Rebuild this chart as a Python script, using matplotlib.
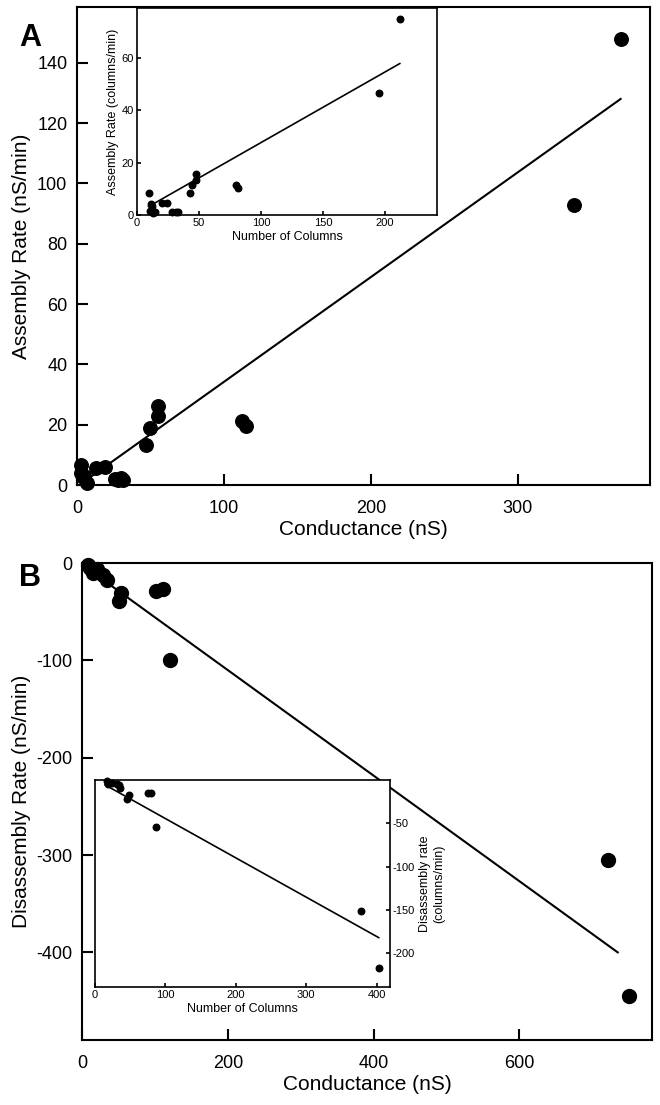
import matplotlib
matplotlib.use("Agg")
import matplotlib.pyplot as plt

plt.rcParams['font.family'] = ['Liberation Sans', 'DejaVu Sans']
plt.rcParams['axes.unicode_minus'] = False

# panel A main: conductance (nS) vs assembly rate (nS/min)
asm_cond = [3, 3, 4, 5, 7, 13, 19, 26, 28, 30, 31, 47, 50, 55, 55, 112, 115, 338, 370]
asm_rate = [6.6, 4.0, 2.5, 3.0, 0.5, 5.5, 6.0, 2.0, 1.8, 2.2, 1.8, 13.3, 19.0, 23.0, 26.3, 21.3, 19.5, 93, 148]
asm_fit_x = [3, 370]
asm_fit_y = [0.5, 128]

# panel A inset: number of columns vs assembly rate (columns/min)
asm_cols = [9.3, 10.1, 11.5, 12, 13.3, 14.7, 20, 24, 28, 31.5, 33.3, 42.7, 44, 47.5, 47.5, 80, 81.3, 195.5, 212]
asm_cols_rate = [8.3, 1.7, 4.2, 3.5, 0.6, 1.3, 4.4, 4.4, 1.3, 1.3, 1.3, 8.3, 11.4, 13.3, 15.6, 11.4, 10.2, 46.4, 74.8]
asm_cols_fit_x = [9.3, 212]
asm_cols_fit_y = [3.2, 57.8]

# panel B main: conductance (nS) vs disassembly rate (nS/min)
dis_cond = [8, 11, 15, 20, 29, 34, 51, 54, 102, 111, 121, 722, 750]
dis_rate = [-2, -5, -10, -6, -12, -17, -39, -31, -29, -27, -100, -305, -445]
dis_fit_x = [10, 735]
dis_fit_y = [-7, -400]

# panel B inset: number of columns vs disassembly rate (columns/min)
dis_cols = [16.6, 19, 23.7, 30.8, 34.6, 35.5, 48.8, 46, 75.8, 79, 86.7, 378, 403]
dis_cols_rate = [-1.7, -4.4, -3.7, -4.4, -5.6, -9.5, -17.2, -22.2, -14.5, -14.5, -53.9, -151, -217.5]
dis_cols_fit_x = [14.2, 403]
dis_cols_fit_y = [-5.6, -182]

W, H = 660, 1105
fig = plt.figure(figsize=(W / 100, H / 100), dpi=100)


def box(l, t, r, b):
    return [l / W, 1 - b / H, (r - l) / W, (b - t) / H]


def style(ax, lw, size, length, pad):
    for s in ax.spines.values():
        s.set_linewidth(lw)
    ax.tick_params(direction='in', width=lw, length=length, labelsize=size, pad=pad,
                   top=False, right=False)


# ---- A main
ax = fig.add_axes(box(77, 7, 650, 485))
ax.scatter(asm_cond, asm_rate, s=95, color='black', zorder=3, clip_on=False)
ax.plot(asm_fit_x, asm_fit_y, color='black', lw=1.5)
ax.set_xlim(0, 390)
ax.set_ylim(0, 158.5)
ax.set_xticks([0, 100, 200, 300])
ax.set_yticks(range(0, 141, 20))
style(ax, 1.5, 13, 8, 7)
ax.tick_params(axis='x', pad=11)
ax.set_xlabel('Conductance (nS)', fontsize=15, labelpad=2)
ax.set_ylabel('Assembly Rate (nS/min)', fontsize=15, labelpad=4)
fig.text(30 / W, 1 - 38 / H, 'A', fontsize=22, fontweight='bold', ha='center', va='center')

# ---- A inset
ins = fig.add_axes(box(137, 8, 437, 215))
ins.scatter(asm_cols, asm_cols_rate, s=22, color='black', zorder=3, clip_on=False)
ins.plot(asm_cols_fit_x, asm_cols_fit_y, color='black', lw=1.2)
ins.set_xlim(0, 242)
ins.set_ylim(0, 79)
ins.set_xticks([0, 50, 100, 150, 200])
ins.set_yticks([0, 20, 40, 60])
style(ins, 1.2, 8, 3, 2)
ins.set_xlabel('Number of Columns', fontsize=9, labelpad=2)
ins.set_ylabel('Assembly Rate (columns/min)', fontsize=9, labelpad=2)

# ---- B main
bx = fig.add_axes(box(82, 563, 652, 1040))
bx.scatter(dis_cond, dis_rate, s=100, color='black', zorder=3, clip_on=False)
bx.plot(dis_fit_x, dis_fit_y, color='black', lw=1.5)
bx.set_xlim(0, 782)
bx.set_ylim(-490, 0)
bx.set_xticks([0, 200, 400, 600])
bx.set_yticks([0, -100, -200, -300, -400])
style(bx, 1.5, 13, 8, 7)
bx.tick_params(axis='x', pad=11)
bx.set_xlabel('Conductance (nS)', fontsize=15, labelpad=2)
bx.set_ylabel('Disassembly Rate (nS/min)', fontsize=15, labelpad=4)
fig.text(30 / W, 1 - 578 / H, 'B', fontsize=22, fontweight='bold', ha='center', va='center')

# ---- B inset
bins = fig.add_axes(box(95, 780, 390, 987))
bins.scatter(dis_cols, dis_cols_rate, s=22, color='black', zorder=3, clip_on=False)
bins.plot(dis_cols_fit_x, dis_cols_fit_y, color='black', lw=1.2)
bins.set_xlim(0, 419)
bins.set_ylim(-239, 0)
bins.set_xticks([0, 100, 200, 300, 400])
bins.set_yticks([-50, -100, -150, -200])
style(bins, 1.2, 8, 3, 2)
bins.yaxis.tick_right()
bins.yaxis.set_label_position('right')
bins.tick_params(axis='y', direction='in', left=False, right=True)
bins.set_xlabel('Number of Columns', fontsize=9, labelpad=2)
bins.set_ylabel('Disassembly rate\n(columns/min)', fontsize=9, labelpad=3, rotation=90)

fig.savefig('out.png', dpi=100)
